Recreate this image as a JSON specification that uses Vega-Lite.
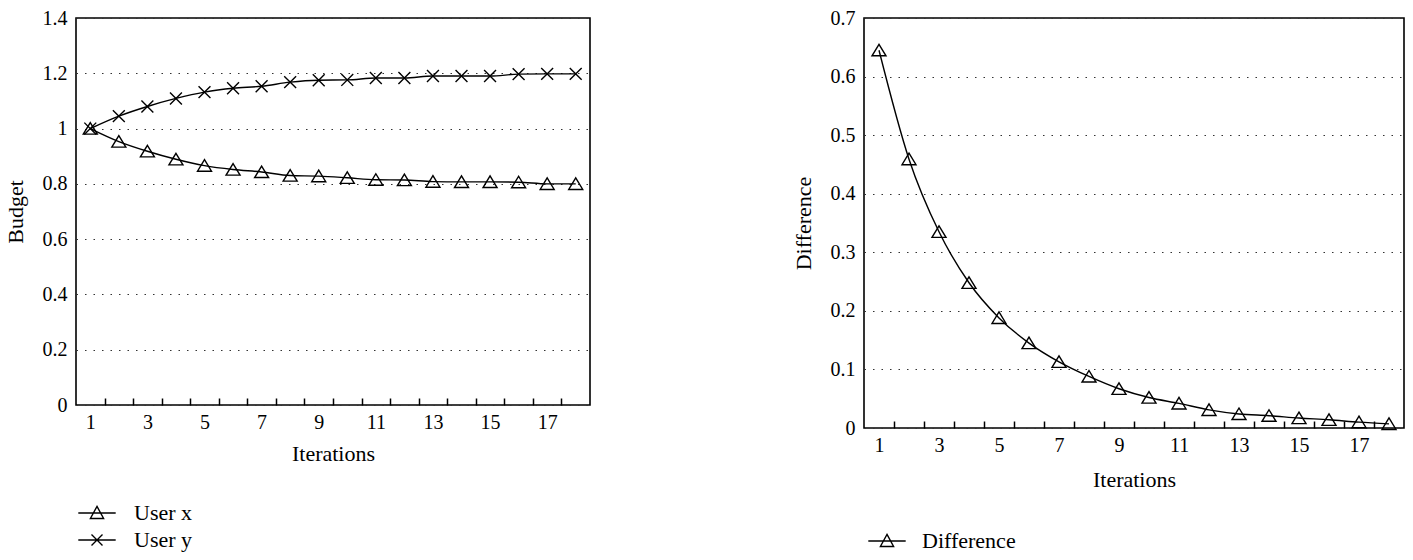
{
  "$schema": "https://vega.github.io/schema/vega-lite/v6.json",
  "padding": {"left": 3, "top": 7, "right": 5, "bottom": 5},
  "spacing": 200,
  "datasets": {
    "budget": [
      {"iter": 1, "series": "User x", "value": 1.0},
      {"iter": 2, "series": "User x", "value": 0.953},
      {"iter": 3, "series": "User x", "value": 0.918},
      {"iter": 4, "series": "User x", "value": 0.889},
      {"iter": 5, "series": "User x", "value": 0.866},
      {"iter": 6, "series": "User x", "value": 0.852},
      {"iter": 7, "series": "User x", "value": 0.843},
      {"iter": 8, "series": "User x", "value": 0.830},
      {"iter": 9, "series": "User x", "value": 0.828},
      {"iter": 10, "series": "User x", "value": 0.822},
      {"iter": 11, "series": "User x", "value": 0.815},
      {"iter": 12, "series": "User x", "value": 0.814},
      {"iter": 13, "series": "User x", "value": 0.808},
      {"iter": 14, "series": "User x", "value": 0.807},
      {"iter": 15, "series": "User x", "value": 0.807},
      {"iter": 16, "series": "User x", "value": 0.806},
      {"iter": 17, "series": "User x", "value": 0.800},
      {"iter": 18, "series": "User x", "value": 0.800},
      {"iter": 1, "series": "User y", "value": 1.0},
      {"iter": 2, "series": "User y", "value": 1.045},
      {"iter": 3, "series": "User y", "value": 1.080},
      {"iter": 4, "series": "User y", "value": 1.109},
      {"iter": 5, "series": "User y", "value": 1.132},
      {"iter": 6, "series": "User y", "value": 1.146},
      {"iter": 7, "series": "User y", "value": 1.153},
      {"iter": 8, "series": "User y", "value": 1.168},
      {"iter": 9, "series": "User y", "value": 1.175},
      {"iter": 10, "series": "User y", "value": 1.176},
      {"iter": 11, "series": "User y", "value": 1.183},
      {"iter": 12, "series": "User y", "value": 1.183},
      {"iter": 13, "series": "User y", "value": 1.190},
      {"iter": 14, "series": "User y", "value": 1.190},
      {"iter": 15, "series": "User y", "value": 1.190},
      {"iter": 16, "series": "User y", "value": 1.197},
      {"iter": 17, "series": "User y", "value": 1.198},
      {"iter": 18, "series": "User y", "value": 1.198}
    ],
    "diff": [
      {"iter": 1, "series": "Difference", "value": 0.645},
      {"iter": 2, "series": "Difference", "value": 0.459},
      {"iter": 3, "series": "Difference", "value": 0.335},
      {"iter": 4, "series": "Difference", "value": 0.248},
      {"iter": 5, "series": "Difference", "value": 0.188},
      {"iter": 6, "series": "Difference", "value": 0.145},
      {"iter": 7, "series": "Difference", "value": 0.113},
      {"iter": 8, "series": "Difference", "value": 0.088},
      {"iter": 9, "series": "Difference", "value": 0.067},
      {"iter": 10, "series": "Difference", "value": 0.052},
      {"iter": 11, "series": "Difference", "value": 0.042},
      {"iter": 12, "series": "Difference", "value": 0.031},
      {"iter": 13, "series": "Difference", "value": 0.024},
      {"iter": 14, "series": "Difference", "value": 0.021},
      {"iter": 15, "series": "Difference", "value": 0.017},
      {"iter": 16, "series": "Difference", "value": 0.014},
      {"iter": 17, "series": "Difference", "value": 0.010},
      {"iter": 18, "series": "Difference", "value": 0.007}
    ]
  },
  "hconcat": [
    {
      "width": 514,
      "height": 387,
      "data": {"name": "budget"},
      "encoding": {
        "x": {
          "field": "iter", "type": "quantitative",
          "scale": {"domain": [0.5, 18.5], "nice": false, "zero": false},
          "axis": {
            "title": "Iterations",
            "values": [1, 1.5, 2.5, 3, 3.5, 4.5, 5, 5.5, 6.5, 7, 7.5, 8.5, 9, 9.5, 10.5, 11, 11.5, 12.5, 13, 13.5, 14.5, 15, 15.5, 16.5, 17, 17.5],
            "format": "~g",
            "labelExpr": "datum.value % 1 === 0 ? datum.label : ''",
            "tickOpacity": {"condition": {"test": "datum.value % 1 === 0", "value": 0}, "value": 1},
            "grid": false
          }
        },
        "y": {
          "field": "value", "type": "quantitative",
          "scale": {"domain": [0, 1.4], "nice": false},
          "axis": {
            "title": "Budget",
            "values": [0, 0.2, 0.4, 0.6, 0.8, 1, 1.2, 1.4],
            "format": "~g",
            "ticks": false,
            "grid": true
          }
        }
      },
      "layer": [
        {
          "mark": {"type": "line", "interpolate": "monotone", "color": "black", "strokeWidth": 1.4},
          "encoding": {"detail": {"field": "series"}}
        },
        {
          "mark": {"type": "point", "filled": false, "color": "black", "strokeWidth": 1.4, "size": 196, "opacity": 1},
          "encoding": {
            "shape": {
              "field": "series", "type": "nominal",
              "scale": {"domain": ["User x", "User y"], "range": ["M0,-0.85L1,0.8L-1,0.8Z", "M-0.85,-0.85L0.85,0.85M-0.85,0.85L0.85,-0.85"]},
              "legend": null
            }
          }
        },
        {
          "transform": [{"filter": "datum.iter < 0"}],
          "mark": {"type": "point", "filled": false, "color": "black", "strokeWidth": 1.4, "opacity": 1},
          "encoding": {
            "shape": {
              "field": "series", "type": "nominal",
              "scale": {"domain": ["User x", "User y"], "range": ["M-1.7,0H1.7M0,-0.6L0.6,0.5L-0.6,0.5Z", "M-1.7,0H1.7M-0.5,-0.5L0.5,0.5M-0.5,0.5L0.5,-0.5"]},
              "legend": {
                "title": null, "orient": "none", "legendX": 9, "legendY": 483,
                "symbolSize": 484, "symbolStrokeColor": "black", "symbolStrokeWidth": 1.4,
                "symbolFillColor": "transparent", "labelOffset": 25, "rowPadding": 4, "padding": 0
              }
            }
          }
        }
      ],
      "resolve": {"scale": {"shape": "independent"}, "legend": {"shape": "independent"}}
    },
    {
      "width": 540,
      "height": 410,
      "data": {"name": "diff"},
      "encoding": {
        "x": {
          "field": "iter", "type": "quantitative",
          "scale": {"domain": [0.5, 18.5], "nice": false, "zero": false},
          "axis": {
            "title": "Iterations",
            "titlePadding": 14,
            "values": [1, 1.5, 2.5, 3, 3.5, 4.5, 5, 5.5, 6.5, 7, 7.5, 8.5, 9, 9.5, 10.5, 11, 11.5, 12.5, 13, 13.5, 14.5, 15, 15.5, 16.5, 17, 17.5],
            "format": "~g",
            "labelExpr": "datum.value % 1 === 0 ? datum.label : ''",
            "tickOpacity": {"condition": {"test": "datum.value % 1 === 0", "value": 0}, "value": 1},
            "grid": false
          }
        },
        "y": {
          "field": "value", "type": "quantitative",
          "scale": {"domain": [0, 0.7], "nice": false},
          "axis": {
            "title": "Difference",
            "values": [0, 0.1, 0.2, 0.3, 0.4, 0.5, 0.6, 0.7],
            "format": "~g",
            "ticks": false,
            "grid": true
          }
        }
      },
      "layer": [
        {
          "mark": {"type": "line", "interpolate": "monotone", "color": "black", "strokeWidth": 1.4},
          "encoding": {"detail": {"field": "series"}}
        },
        {
          "mark": {"type": "point", "filled": false, "color": "black", "strokeWidth": 1.4, "size": 196, "opacity": 1},
          "encoding": {
            "shape": {
              "field": "series", "type": "nominal",
              "scale": {"domain": ["Difference"], "range": ["M0,-0.85L1,0.8L-1,0.8Z"]},
              "legend": null
            }
          }
        },
        {
          "transform": [{"filter": "datum.iter < 0"}],
          "mark": {"type": "point", "filled": false, "color": "black", "strokeWidth": 1.4, "opacity": 1},
          "encoding": {
            "shape": {
              "field": "series", "type": "nominal",
              "scale": {"domain": ["Difference"], "range": ["M-1.7,0H1.7M0,-0.6L0.6,0.5L-0.6,0.5Z"]},
              "legend": {
                "title": null, "orient": "none", "legendX": 11, "legendY": 511,
                "symbolSize": 484, "symbolStrokeColor": "black", "symbolStrokeWidth": 1.4,
                "symbolFillColor": "transparent", "labelOffset": 23, "rowPadding": 4, "padding": 0
              }
            }
          }
        }
      ],
      "resolve": {"scale": {"shape": "independent"}, "legend": {"shape": "independent"}}
    }
  ],
  "config": {
    "font": "Liberation Serif",
    "background": "white",
    "view": {"stroke": "black", "strokeWidth": 1.6},
    "axis": {
      "labelFont": "Liberation Serif",
      "titleFont": "Liberation Serif",
      "labelFontSize": 20,
      "titleFontSize": 22,
      "titleFontWeight": "normal",
      "labelColor": "black",
      "titleColor": "black",
      "domain": false,
      "gridColor": "#333333",
      "gridDash": [1.5, 7],
      "gridWidth": 1.2,
      "labelOverlap": false,
      "labelFlush": false
    },
    "axisX": {
      "tickSize": -7,
      "tickColor": "black",
      "tickWidth": 1.5,
      "labelPadding": 14,
      "titlePadding": 11
    },
    "axisY": {
      "labelPadding": 9,
      "titlePadding": 15
    },
    "legend": {
      "labelFont": "Liberation Serif",
      "labelFontSize": 22,
      "labelColor": "black"
    }
  }
}
